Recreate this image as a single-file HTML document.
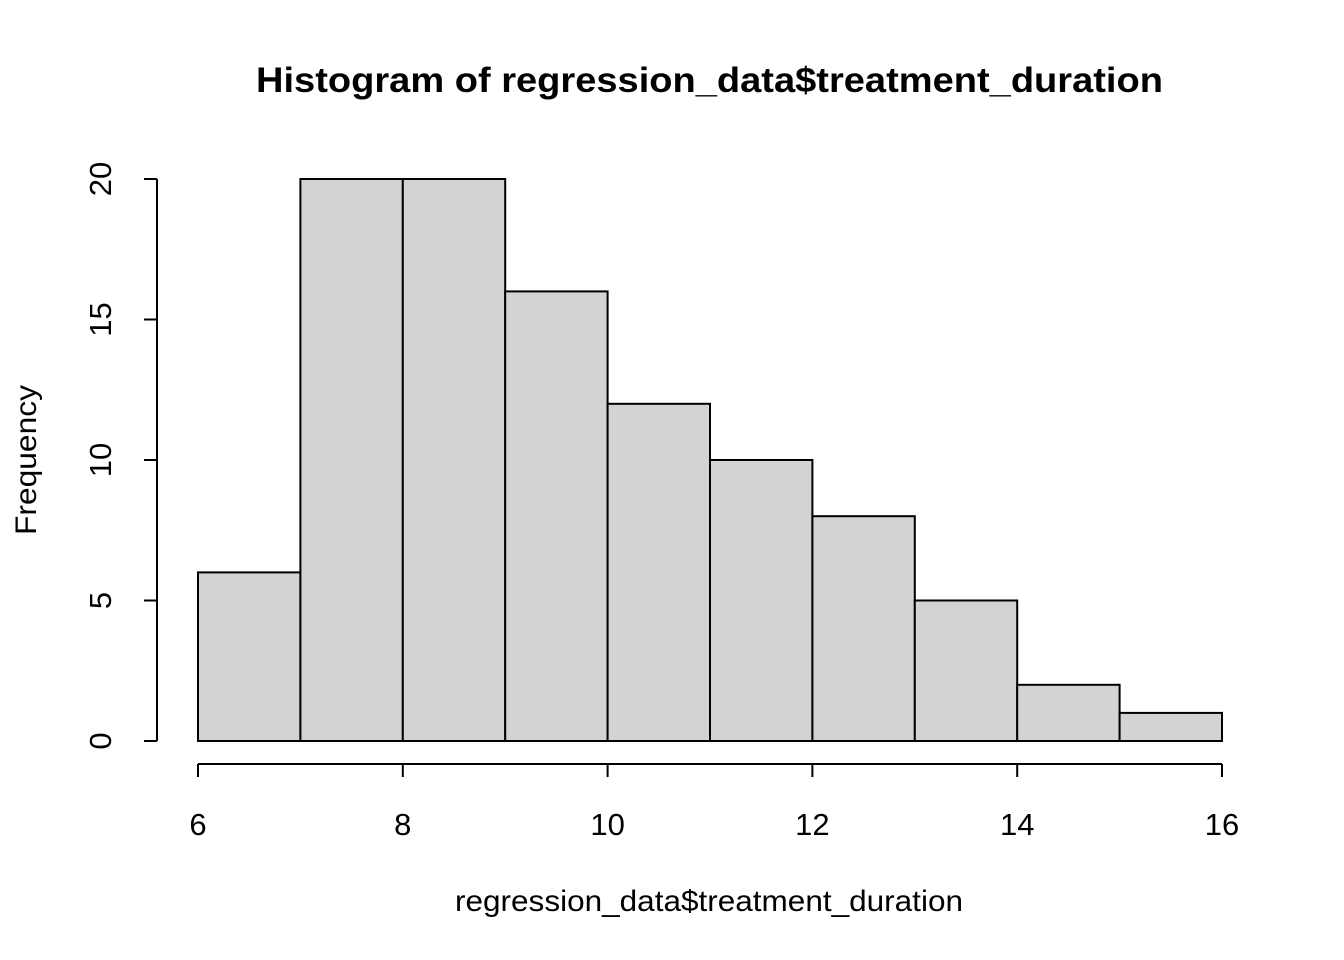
<!DOCTYPE html>
<html><head><meta charset="utf-8"><style>
html,body{margin:0;padding:0;background:#fff;}
svg{display:block;font-family:"Liberation Sans",Arial,sans-serif;}
</style></head><body>
<svg id="chart" width="1344" height="960" viewBox="0 0 1344 960">
<text x="256" y="92" font-size="35" font-weight="bold" textLength="907" lengthAdjust="spacingAndGlyphs">Histogram of regression_data$treatment_duration</text>
<text x="455" y="911" font-size="30" textLength="508" lengthAdjust="spacingAndGlyphs">regression_data$treatment_duration</text>
<text transform="translate(36,535) rotate(-90)" font-size="30" textLength="150" lengthAdjust="spacingAndGlyphs">Frequency</text>
<g id="bars"></g>
<g id="xaxis"></g>
<g id="yaxis"></g>
</svg>
<script>
const breaks = [6,7,8,9,10,11,12,13,14,15,16];
const counts = [6,20,20,16,12,10,8,5,2,1];
const xTicks = [6,8,10,12,14,16];
const yTicks = [0,5,10,15,20];
const NS="http://www.w3.org/2000/svg";
function sx(v){return 198+(v-6)*102.4;}
function sy(v){return 741-v*28.1;}
function mk(tag,attrs,parent){const e=document.createElementNS(NS,tag);for(const k in attrs)e.setAttribute(k,attrs[k]);parent.appendChild(e);return e;}
const bars=document.getElementById('bars');
counts.forEach((c,i)=>{
  const r=mk('rect',{x:sx(breaks[i]),y:sy(c),width:sx(breaks[i+1])-sx(breaks[i]),height:sy(0)-sy(c),fill:'#d3d3d3',stroke:'#000','stroke-width':2},bars);
  
  
});
const xa=document.getElementById('xaxis');
mk('line',{x1:sx(xTicks[0]),x2:sx(xTicks[xTicks.length-1]),y1:764,y2:764,stroke:'#000','stroke-width':2},xa);
xTicks.forEach(t=>{
  mk('line',{x1:sx(t),x2:sx(t),y1:764,y2:777,stroke:'#000','stroke-width':2},xa);
  const tx=mk('text',{x:sx(t),y:835,'text-anchor':'middle','font-size':31},xa);
  tx.textContent=t;
  
  
});
const ya=document.getElementById('yaxis');
mk('line',{x1:157,x2:157,y1:sy(yTicks[0]),y2:sy(yTicks[yTicks.length-1]),stroke:'#000','stroke-width':2},ya);
yTicks.forEach(t=>{
  mk('line',{x1:144,x2:157,y1:sy(t),y2:sy(t),stroke:'#000','stroke-width':2},ya);
  const tx=mk('text',{transform:'translate(111,'+sy(t)+') rotate(-90)','text-anchor':'middle','font-size':31},ya);
  tx.textContent=t;
  
  
});
</script>
</body></html>
